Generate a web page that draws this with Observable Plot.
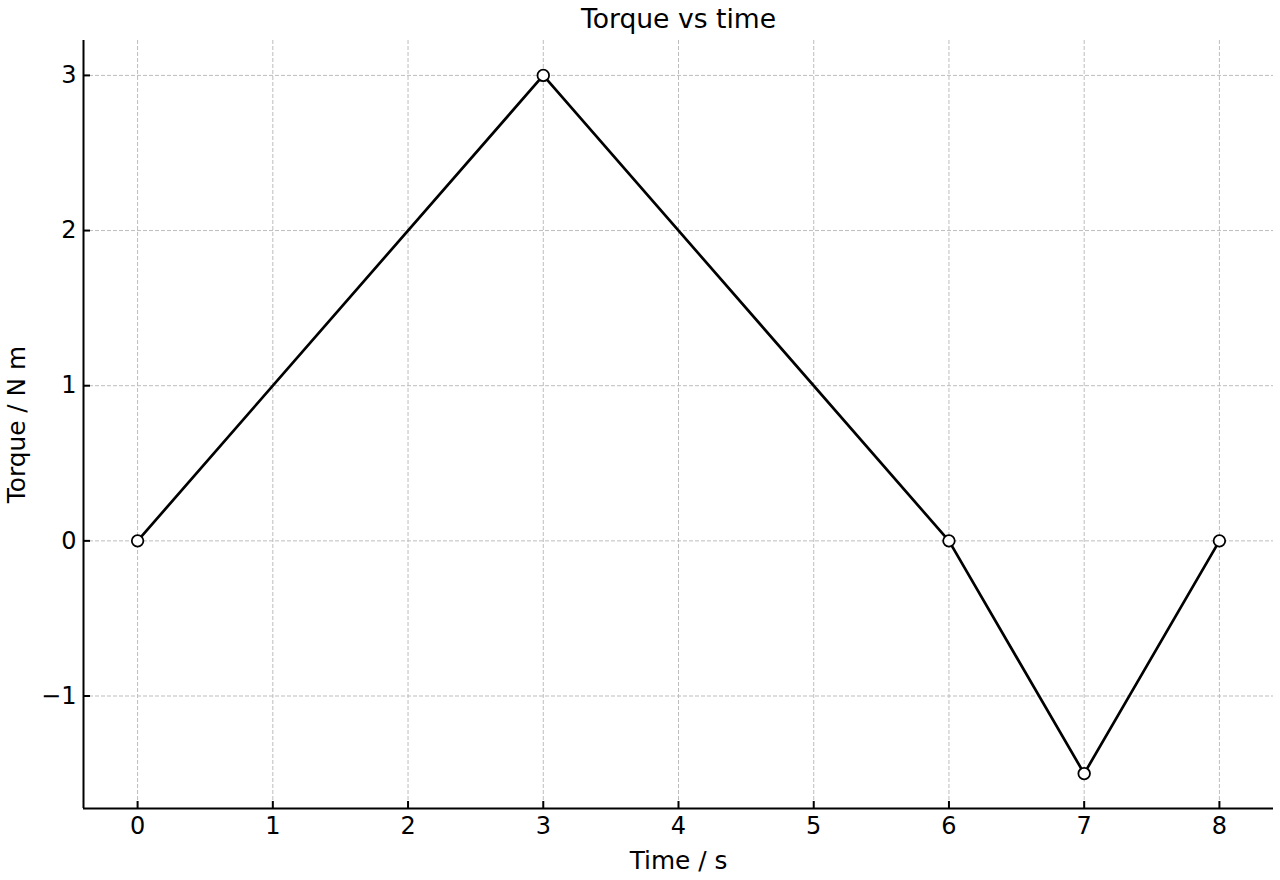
<!DOCTYPE html>
<html>
<head>
<meta charset="utf-8">
<script src="https://cdn.jsdelivr.net/npm/d3@7"></script>
<script src="https://cdn.jsdelivr.net/npm/@observablehq/plot@0.6"></script>
<style>
  html, body { margin: 0; padding: 0; background: #fff; }
  #chart svg { display: block; }
  #chart svg g[aria-label="x-axis tick label"],
  #chart svg g[aria-label="y-axis tick label"] { font-size: 24px; }
</style>
</head>
<body>
<div id="chart"></div>
<script>
const timeS = [0, 3, 6, 7, 8];
const torqueNm = [0, 3, 0, -1.5, 0];
const xTicks = [0, 1, 2, 3, 4, 5, 6, 7, 8];
const yTicks = [-1, 0, 1, 2, 3];
const titleText = "Torque vs time";
const xLabel = "Time / s";
const yLabel = "Torque / N m";

const data = timeS.map((t, i) => ({t, v: torqueNm[i]}));
const font = "DejaVu Sans, sans-serif";
const fmt = d3.format("d");

const chart = Plot.plot({
  width: 1280,
  height: 880,
  marginTop: 40,
  marginBottom: 72,
  marginLeft: 83,
  marginRight: 7,
  style: {fontFamily: font, fontSize: "24px", background: "#fff", color: "#000"},
  x: {domain: [-0.4, 8.4]},
  y: {domain: [-1.725, 3.225]},
  marks: [
    Plot.gridX(xTicks, {stroke: "#bdbdbd", strokeOpacity: 1, strokeWidth: 1, strokeDasharray: "4,2"}),
    Plot.gridY(yTicks, {stroke: "#bdbdbd", strokeOpacity: 1, strokeWidth: 1, strokeDasharray: "4,2"}),
    Plot.axisX(xTicks, {tickSize: -7, tickPadding: 15, strokeWidth: 2, label: null, tickFormat: fmt}),
    Plot.axisY(yTicks, {tickSize: -7, tickPadding: 14, strokeWidth: 2, label: null, tickFormat: fmt}),
    Plot.ruleY([-1.725], {stroke: "#000", strokeWidth: 2}),
    Plot.ruleX([-0.4], {stroke: "#000", strokeWidth: 2}),
    Plot.line(data, {x: "t", y: "v", stroke: "#000", strokeWidth: 2.7}),
    Plot.dot(data, {x: "t", y: "v", r: 5.8, fill: "#fff", stroke: "#000", strokeWidth: 1.8}),
    Plot.text([titleText], {frameAnchor: "top", lineAnchor: "middle", dy: -21, fontSize: 26.6, fill: "#000"}),
    Plot.text([xLabel], {frameAnchor: "bottom", lineAnchor: "middle", dy: 53, fontSize: 24.8, fill: "#000"}),
    Plot.text([yLabel], {frameAnchor: "left", textAnchor: "middle", lineAnchor: "middle", dx: -66, rotate: -90, fontSize: 24.8, fill: "#000"})
  ]
});
document.getElementById("chart").appendChild(chart);
</script>
</body>
</html>
